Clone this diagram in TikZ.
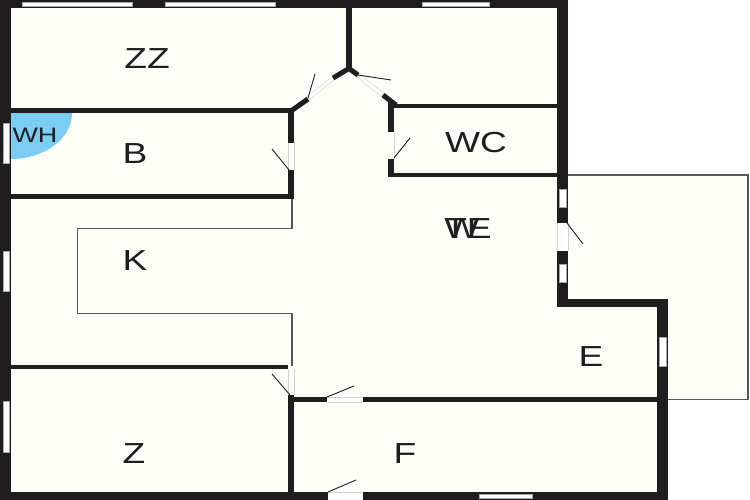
\documentclass[tikz,border=0pt]{standalone}
\usepackage{fontspec}
\setmainfont{Liberation Sans}
\definecolor{wallblack}{HTML}{1F1D1E}
\definecolor{floorwhite}{HTML}{FEFEF9}
\definecolor{heaterblue}{HTML}{7BCDF4}
\tikzset{x=1pt,y=-1pt,
wall/.style={fill=wallblack,draw=none}, % Thick walls are filled rectangles
thinwall/.style={draw=wallblack!75,line width=1.2pt}, % Outline of kitchen and terrace
windowbox/.style={fill=white,draw=gray!70,line width=0.4pt},
doorgap/.style={draw=gray!35,line width=0.5pt,fill=floorwhite},
doorleaf/.style={draw=wallblack,line width=0.9pt},
roomlabel/.style={font=\fontsize{29}{29}\selectfont,text=wallblack,transform shape,xscale=1.28,inner sep=0pt}}

\begin{document}
\begin{tikzpicture}
    \useasboundingbox (0,0) rectangle (750,500);
    \fill[white] (0,0) rectangle (750,500);

    % floor and terrace
    \fill[floorwhite] (5,4) -- (562,4) -- (562,303) -- (662,303) -- (662,496) -- (5,496) -- cycle;
    \draw[thinwall,fill=floorwhite] (565,175) -- (748,175) -- (748,399.5) -- (665,399.5);
    \fill[floorwhite] (568,176) rectangle (747,299);
    \fill[floorwhite] (668,299) rectangle (747,399);

    % heater
    \fill[heaterblue] (11,113) -- (72,113) arc[start angle=0,end angle=90,x radius=61,y radius=46] -- cycle;

    % kitchen outline
    \draw[thinwall] (292,198) -- (292,228.5) -- (77.5,228.5) -- (77.5,313.5) -- (292,313.5) -- (292,366);

    % outer walls
    \fill[wall] (0,0) rectangle (568,8);
    \fill[wall] (0,0) rectangle (11,500);
    \fill[wall] (0,492) rectangle (328,500);
    \fill[wall] (363,492) rectangle (668,500);
    \fill[wall] (557,0) rectangle (568,223);
    \fill[wall] (557,251) rectangle (568,307);
    \fill[wall] (557,299) rectangle (668,307);
    \fill[wall] (657,299) rectangle (668,500);

    % inner walls
    \fill[wall] (11,108) rectangle (294,113);
    \fill[wall] (11,194) rectangle (294,199);
    \fill[wall] (11,365) rectangle (288,369);
    \fill[wall] (288,108) rectangle (294,143);
    \fill[wall] (288,170) rectangle (294,199);
    \fill[wall] (288,395) rectangle (294,492);
    \fill[wall] (294,397) rectangle (327,402);
    \fill[wall] (363,397) rectangle (657,402);
    \fill[wall] (346,8) rectangle (352,70);
    \fill[wall] (388,100) rectangle (394,132);
    \fill[wall] (388,159) rectangle (394,177);
    \fill[wall] (394,104) rectangle (557,108);
    \fill[wall] (388,173) rectangle (557,177);
    \draw[wallblack,line width=5pt] (291,111) -- (308,99);
    \draw[wallblack,line width=5pt] (333,78) -- (349,68.5) -- (358,75);
    \draw[wallblack,line width=5pt] (383,95) -- (396,105);

    % door openings
    \draw[doorgap] (307,96.5) -- (332,76.5);
    \draw[doorgap] (309,100) -- (334,80);
    \draw[doorgap] (359,73.5) -- (384,93.5);
    \draw[doorgap] (357,77) -- (382,97);
    \draw[doorgap] (288,143) -- (288,170);
    \draw[doorgap] (294,143) -- (294,170);
    \draw[doorgap] (394,132) -- (394,159);
    \draw[doorgap] (288,369) -- (288,395);
    \draw[doorgap] (294,369) -- (294,395);
    \draw[doorgap] (327,397) -- (363,397);
    \draw[doorgap] (327,402) -- (363,402);
    \draw[doorgap] (328,492) -- (363,492);
    \draw[doorgap] (557,223) -- (557,251);
    \draw[doorgap] (568,223) -- (568,251);

    % door leaves
    \draw[doorleaf] (308,98) -- (315,74);
    \draw[doorleaf] (358,75) -- (391,80);
    \draw[doorleaf] (289,170) -- (272,149);
    \draw[doorleaf] (394,158) -- (410,138);
    \draw[doorleaf] (290,395) -- (272,374);
    \draw[doorleaf] (327,397) -- (354,386);
    \draw[doorleaf] (328,492) -- (356,480);
    \draw[doorleaf] (567,223) -- (583,244);

    % windows
    \draw[windowbox] (22,2) rectangle (132,6);
    \draw[windowbox] (165,2) rectangle (275,6);
    \draw[windowbox] (422,2) rectangle (489,6);
    \draw[windowbox] (3,123) rectangle (9,163);
    \draw[windowbox] (3,251) rectangle (9,291);
    \draw[windowbox] (3,401) rectangle (9,452);
    \draw[windowbox] (559,189) rectangle (566,207);
    \draw[windowbox] (559,264) rectangle (566,282);
    \draw[windowbox] (659,337) rectangle (666,366);
    \draw[windowbox] (479,494) rectangle (532,498);

    % room names
    \node[roomlabel] (zz) at (147,58.5) {ZZ};
    \node[roomlabel] (b) at (135,153.5) {B};
    \node[roomlabel] (k) at (135,260.5) {K};
    \node[roomlabel] (z) at (134,453.5) {Z};
    \node[roomlabel] (f) at (405,453.5) {F};
    \node[roomlabel] (e) at (591,357) {E};
    \node[roomlabel] (wc) at (476,142.5) {WC};
    \node[roomlabel] (te) at (468,228.5) {TE};
    \node[roomlabel] (w) at (462,228.5) {W};
    \node[roomlabel,font=\fontsize{21}{21}\selectfont] (wh) at (35,135) {WH};
\end{tikzpicture}
\end{document}
